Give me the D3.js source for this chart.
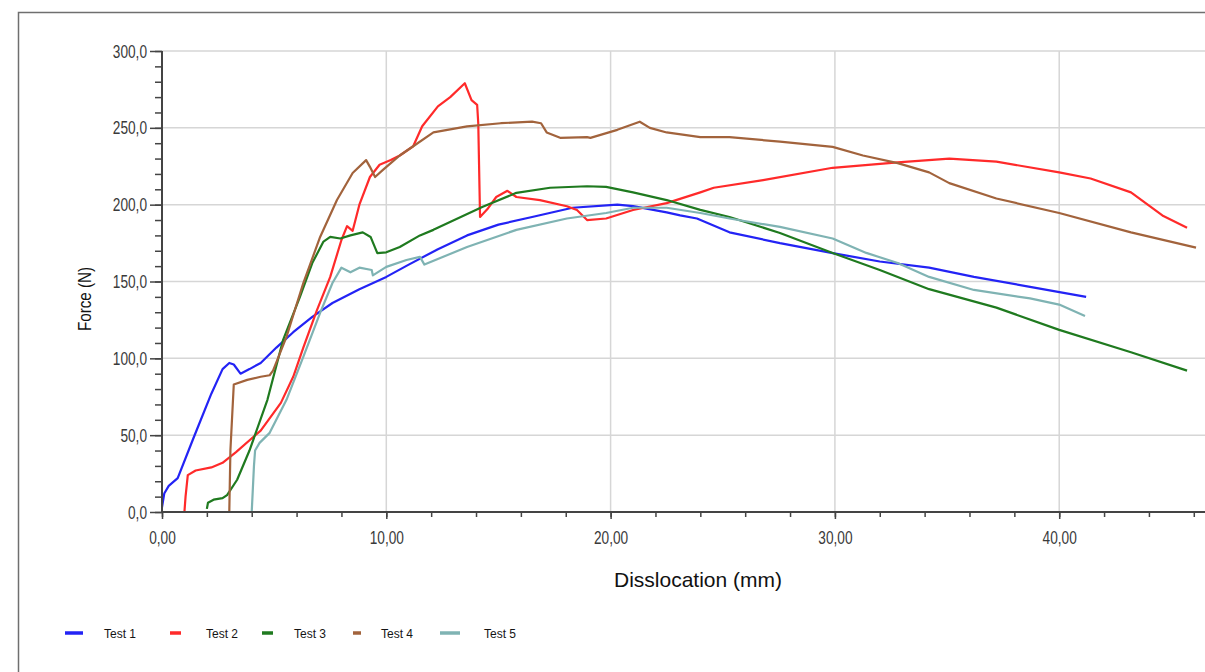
<!DOCTYPE html>
<html>
<head>
<meta charset="utf-8">
<script src="https://cdn.jsdelivr.net/npm/d3@7"></script>
<style>
  body { margin: 0; background: #fff; }
  svg { display: block; }
  .tick-label { font-family: Arial, "Liberation Sans", sans-serif; font-size: 19px; fill: #3a3a3a; }
  .title { font-family: Arial, "Liberation Sans", sans-serif; fill: #111; }
  .legend { font-family: Arial, "Liberation Sans", sans-serif; font-size: 12px; fill: #151515; }
</style>
</head>
<body>
<script>
//
// Data
//

// [dislocation mm, force N]
const test1 = [[0,3],[0.1,12],[0.3,17],[0.7,22],[1.4,48],[2.2,77],[2.7,93],[3.0,97],[3.2,96],[3.5,90],[3.9,93],[4.4,97],[5.1,107],[5.85,117],[6.7,127],[7.6,136],[8.8,145],[10,153],[11,161],[12.3,171],[13.6,180],[15,187],[16.5,192],[18.3,198],[20.3,200],[21,199],[22.5,195],[23.1,193],[23.85,191],[25.3,182],[27.55,175],[29.9,168.5],[32,163],[34.2,159],[36.2,153],[38.7,146.5],[41.2,140]]
const test2 = [[1.0,0],[1.05,10],[1.15,24],[1.5,27],[2.2,29],[2.7,32],[3.3,39],[4.4,53],[5.3,71],[5.85,88],[6.3,107],[6.9,131],[7.5,153],[8.0,177],[8.25,186],[8.5,183],[8.8,200],[9.27,218],[9.7,226],[10.2,229],[10.6,232],[11.2,238],[11.6,251],[12.3,264],[12.85,270],[13.5,279],[13.8,268],[14.05,265],[14.1,253],[14.18,192],[14.5,197],[14.9,205],[15.4,209],[15.8,205],[16.85,203],[18.05,199],[18.5,196.5],[18.95,190],[19.8,191],[21,196.5],[22.5,201],[24,208],[24.6,211],[26.8,216],[29.9,224],[32.8,227.5],[35.1,230],[37.2,228],[40,221],[41.4,217],[43.2,208],[44.6,193],[45.7,185]]
const test3 = [[2.0,2],[2.05,6],[2.3,8],[2.7,9],[2.9,11],[3.35,21],[3.9,40],[4.7,73],[5.4,112],[6.15,140],[6.7,162],[7.2,176],[7.5,179],[7.95,178],[8.4,180],[8.95,182],[9.3,179],[9.6,168.5],[10,169],[10.6,172.5],[11.5,180],[12.1,183.6],[14.3,198.6],[15.8,207.7],[17.3,211],[18.95,212],[19.8,211.6],[21,208],[22.5,203],[24,196.6],[25.3,192],[27.55,181.6],[29.9,168.5],[32,157.5],[34.2,145],[37.2,133],[40,118.5],[43.2,104],[45.7,92]]
const test4 = [[3.0,0],[3.05,40],[3.2,83],[3.8,86],[4.4,88],[4.8,89],[4.95,92],[5.55,114],[6.3,149],[7.05,179],[7.8,203],[8.5,220.6],[9.1,229],[9.27,224.6],[9.5,218],[9.85,222.6],[10.2,227],[10.6,232],[11.2,238],[12.1,247],[13.6,251],[15.1,253],[16.5,254],[16.9,253],[17.15,247],[17.75,243.5],[18.95,244],[19.1,243.5],[20.3,248.7],[21.3,254],[21.75,250],[22.5,247],[24,244],[25.3,244],[27.55,241],[29.9,237.6],[31.25,232],[32.8,227],[34.2,221],[35.1,214],[37.2,204],[40,194.6],[43.2,182],[46.1,172]]
const test5 = [[4.0,0],[4.1,30],[4.15,40],[4.35,45],[4.8,51.5],[5.55,73],[6.3,101],[7.05,129.6],[7.6,149],[8.0,159],[8.4,156],[8.8,159],[9.35,157.5],[9.4,154],[10,159.5],[10.9,164],[11.5,166],[11.7,161],[13.6,172.5],[15.8,183.6],[18.05,191],[19.8,194.6],[21,198],[22.5,198],[24,194.6],[25.3,191],[27.55,185.5],[29.9,178],[31.4,168.6],[32.8,162],[34.2,153],[36.2,144.5],[38.7,139],[40,135],[41.15,127.6]]

const seriesNames = ['Test 1', 'Test 2', 'Test 3', 'Test 4', 'Test 5']
const seriesColors = ['#2323f5', '#ff2a2a', '#1f7a1f', '#a2633c', '#7fb3b3']
const xMajorTicks = [0, 10, 20, 30, 40]
const yMajorTicks = [0, 50, 100, 150, 200, 250, 300]

//
// Layout
//

const W = 1205, H = 672
const plotLeft = 162, plotRight = 1205, plotTop = 51, plotBottom = 512
const squeeze = 0.72 // tick labels are drawn narrow in the original

const svg = d3.select('body').append('svg').attr('width', W).attr('height', H)

// outer frame (cut off on the right)
svg.append('path')
  .attr('d', 'M18.5,' + H + 'V12.5H' + W)
  .attr('fill', 'none').attr('stroke', '#6f6f6f').attr('stroke-width', 1.5)

const x = d3.scaleLinear().domain([0, 46.5]).range([plotLeft, plotRight])
const y = d3.scaleLinear().domain([0, 300]).range([plotBottom, plotTop])

const fmtX = d => d3.format('.2f')(d).replace('.', ',')
const fmtY = d => d3.format('.1f')(d).replace('.', ',')

// grid
svg.append('g').selectAll('line')
  .data(yMajorTicks.slice(1))
  .enter().append('line')
  .attr('x1', plotLeft).attr('x2', plotRight)
  .attr('y1', d => y(d)).attr('y2', d => y(d))
  .attr('stroke', '#d6d6d6').attr('stroke-width', 1.5)
svg.append('g').selectAll('line')
  .data(xMajorTicks.slice(1))
  .enter().append('line')
  .attr('x1', d => x(d)).attr('x2', d => x(d))
  .attr('y1', plotTop).attr('y2', plotBottom)
  .attr('stroke', '#d6d6d6').attr('stroke-width', 1.5)

// series
const line = d3.line().x(d => x(d[0])).y(d => y(d[1]))
const allTests = [test1, test2, test3, test4, test5]
svg.append('g').selectAll('path')
  .data(allTests)
  .enter().append('path')
  .attr('d', line)
  .attr('fill', 'none')
  .attr('stroke', (d, i) => seriesColors[i])
  .attr('stroke-width', 2.2)
  .attr('stroke-linejoin', 'round')

// y axis: minor + major ticks
const yMinor = svg.append('g').attr('transform', 'translate(' + plotLeft + ',0)')
  .call(d3.axisLeft(y).tickValues(d3.range(0, 301, 10)).tickSize(7).tickFormat(''))
const yMajor = svg.append('g').attr('transform', 'translate(' + plotLeft + ',0)')
  .call(d3.axisLeft(y).tickValues(yMajorTicks).tickSize(12).tickPadding(3).tickFormat(fmtY))

// x axis
const xMinor = svg.append('g').attr('transform', 'translate(0,' + plotBottom + ')')
  .call(d3.axisBottom(x).tickValues(d3.range(0, 47, 2)).tickSize(5).tickFormat(''))
const xMajor = svg.append('g').attr('transform', 'translate(0,' + plotBottom + ')')
  .call(d3.axisBottom(x).tickValues(xMajorTicks).tickSize(7).tickPadding(12).tickFormat(fmtX))

;[yMinor, yMajor, xMinor, xMajor].forEach(function(g) {
  g.attr('font-size', null).attr('font-family', null)
  g.selectAll('.domain').attr('stroke', '#444').attr('stroke-width', 2)
  g.selectAll('.tick line').attr('stroke', '#444').attr('stroke-width', 1.5)
  g.selectAll('.tick text')
    .attr('class', 'tick-label')
    .attr('fill', null)
    .each(function() {
      const t = d3.select(this)
      const tx = +t.attr('x') || 0
      t.attr('x', 0).attr('transform', 'translate(' + tx + ',0) scale(' + squeeze + ',1)')
    })
})
yMinor.select('.domain').attr('d', 'M0,' + plotTop + 'V' + plotBottom)
yMajor.select('.domain').attr('d', 'M0,' + plotTop + 'V' + plotBottom)
xMinor.select('.domain').attr('d', 'M' + plotLeft + ',0H' + plotRight)
xMajor.select('.domain').attr('d', 'M' + plotLeft + ',0H' + plotRight)

// axis titles
svg.append('text').attr('class', 'title')
  .attr('transform', 'translate(91,299) rotate(-90) scale(0.8,1)')
  .attr('text-anchor', 'middle')
  .attr('font-size', 19)
  .text('Force (N)')
svg.append('text').attr('class', 'title')
  .attr('x', 698).attr('y', 587)
  .attr('text-anchor', 'middle')
  .attr('font-size', 21)
  .text('Disslocation (mm)')

// legend
const legendLineX = [65, 170, 262, 353, 440]
const legendLineW = [18, 11, 11, 8, 20]
const legendTextX = [104, 206, 294, 381, 484]
const legend = svg.append('g')
seriesNames.forEach(function(name, i) {
  legend.append('line')
    .attr('x1', legendLineX[i]).attr('x2', legendLineX[i] + legendLineW[i])
    .attr('y1', 633).attr('y2', 633)
    .attr('stroke', seriesColors[i]).attr('stroke-width', 3.5)
  legend.append('text').attr('class', 'legend')
    .attr('x', legendTextX[i]).attr('y', 638)
    .text(name)
})
</script>
</body>
</html>
